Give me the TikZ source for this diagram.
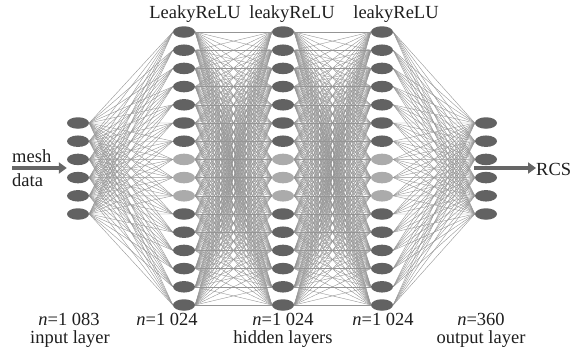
\documentclass[tikz,border=0pt]{standalone}
\usepackage{fontspec}
\setmainfont{Liberation Serif}
\usetikzlibrary{shapes.geometric,arrows.meta}
\pgfdeclarelayer{bg}
\pgfsetlayers{bg,main}
\definecolor{nodedark}{HTML}{626262}
\definecolor{nodelight}{HTML}{ABABAB}
\definecolor{linkgray}{HTML}{959595}
\definecolor{arrowgray}{HTML}{666666}
\definecolor{txt}{HTML}{1E1E1E}
\tikzset{
  neuron/.style={ellipse, fill=nodedark, minimum width=22pt, minimum height=11.5pt, inner sep=0pt},
  faint/.style={neuron, fill=nodelight},
  link/.style={draw=linkgray, line width=0.4pt},
  lbl/.style={font=\fontsize{18.5}{20}\selectfont, text=txt, inner sep=0pt, anchor=base},
  flow/.style={draw=arrowgray, line width=4.8pt, -{Triangle[length=8pt,width=11pt]}}
}
\begin{document}
\begin{tikzpicture}[x=1pt,y=-1pt]
\useasboundingbox (0,0) rectangle (583,351);

% input layer (6 neurons)
\foreach \i in {1,...,6}
  \node[neuron] (in-\i) at (78,{168.5+18.2*(\i-3.5)}) {};
% three hidden layers (16 neurons each, three faint ones in the middle)
\foreach \l/\x in {1/184,2/283,3/382}
  \foreach \i in {1,...,16}{
    \ifnum\i>7 \ifnum\i<11
      \node[faint] (h\l-\i) at (\x,{32+18.2*(\i-1)}) {};
    \else
      \node[neuron] (h\l-\i) at (\x,{32+18.2*(\i-1)}) {};
    \fi\else
      \node[neuron] (h\l-\i) at (\x,{32+18.2*(\i-1)}) {};
    \fi
  }
% output layer (6 neurons)
\foreach \i in {1,...,6}
  \node[neuron] (out-\i) at (486,{168.5+18.2*(\i-3.5)}) {};

% fully connected links
\begin{pgfonlayer}{bg}
\foreach \i in {1,...,6}
  \foreach \j in {1,...,16}
    \draw[link] (in-\i.east) -- (h1-\j.west);
\foreach \a/\b in {1/2,2/3}
  \foreach \i in {1,...,16}
    \foreach \j in {1,...,16}
      \draw[link] (h\a-\i.east) -- (h\b-\j.west);
\foreach \i in {1,...,16}
  \foreach \j in {1,...,6}
    \draw[link] (h3-\i.east) -- (out-\j.west);
\end{pgfonlayer}

% activation labels
\node[lbl] (act1) at (195,18) {LeakyReLU};
\node[lbl] (act2) at (292,18) {leakyReLU};
\node[lbl] (act3) at (396,18) {leakyReLU};

% layer sizes and names
\node[lbl] (nin) at (69,325) {\textit{n}=1~083};
\node[lbl] (tin) at (70,343) {input layer};
\node[lbl] (nh1) at (167,325) {\textit{n}=1~024};
\node[lbl] (nh2) at (283,325) {\textit{n}=1~024};
\node[lbl] (th) at (283,343) {hidden layers};
\node[lbl] (nh3) at (383,325) {\textit{n}=1~024};
\node[lbl] (nout) at (481,325) {\textit{n}=360};
\node[lbl] (tout) at (481,343) {output layer};

% input and output arrows
\node[lbl, anchor=base west] (mesh) at (12,162) {mesh};
\node[lbl, anchor=base west] (data) at (12,186) {data};
\coordinate (src) at (12,168);
\draw[flow] (src) -- (in-4.west |- src);
\node[lbl, anchor=base west] (rcs) at (536,175) {RCS};
\coordinate (dst) at (474,168);
\draw[flow] (dst) -- (rcs.west |- dst);
\end{tikzpicture}
\end{document}
